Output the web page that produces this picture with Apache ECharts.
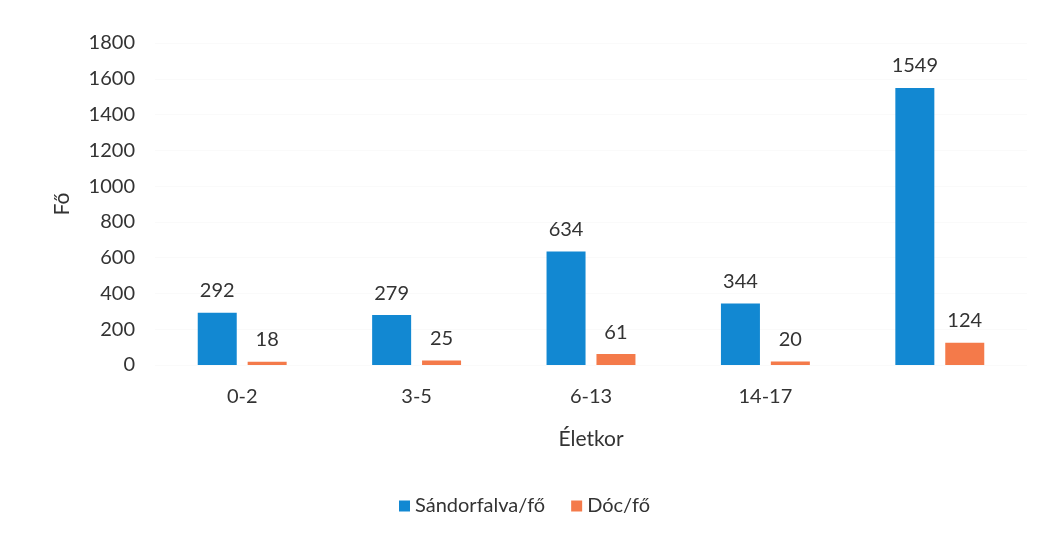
<!DOCTYPE html>
<html lang="hu">

<head>
    <meta charset="utf-8" />
    <title>Életkor szerinti megoszlás</title>
    <script src="https://cdn.jsdelivr.net/npm/echarts@6/dist/echarts.min.js"></script>
    <style>
        html, body { margin: 0; padding: 0; background: #fff; }
        #chart { width: 1049px; height: 535px; }
    </style>
</head>

<body>
    <div id="chart"></div>

    <script>
        // adatok
        var categories = ['0-2', '3-5', '6-13', '14-17', ''];
        var sandorfalva = [292, 279, 634, 344, 1549];
        var doc = [18, 25, 61, 20, 124];
        var seriesNames = ['Sándorfalva/fő', 'Dóc/fő'];

        var font = 'Lato, "Open Sans", sans-serif';
        var txt = '#333333';

        var myChart = echarts.init(document.getElementById('chart'));

        var labelOpt = {
            show: true,
            position: 'top',
            distance: 12,
            color: txt,
            fontSize: 20,
            fontFamily: font
        };

        var option = {
            animation: false,
            grid: { left: 155, right: 22, top: 43, bottom: 170, containLabel: false },
            legend: {
                data: seriesNames,
                bottom: 14,
                left: 'center',
                itemWidth: 11,
                itemHeight: 11,
                itemGap: 26,
                icon: 'rect',
                textStyle: { color: txt, fontSize: 20, fontFamily: font }
            },
            xAxis: {
                type: 'category',
                data: categories,
                name: 'Életkor',
                nameLocation: 'middle',
                nameGap: 64,
                nameTextStyle: { color: txt, fontSize: 21, fontFamily: font },
                axisLine: { show: false },
                axisTick: { show: false },
                axisLabel: { color: txt, fontSize: 20, fontFamily: font, margin: 22 }
            },
            yAxis: {
                type: 'value',
                min: 0,
                max: 1800,
                interval: 200,
                name: 'Fő',
                nameLocation: 'middle',
                nameGap: 82,
                nameTextStyle: { color: txt, fontSize: 21, fontFamily: font },
                axisLine: { show: false },
                axisTick: { show: false },
                splitLine: { show: true, lineStyle: { color: '#fafafa' } },
                axisLabel: {
                    color: txt, fontSize: 20, fontFamily: font, margin: 20,
                    formatter: function (v) { return String(v); }
                }
            },
            series: [
                {
                    name: seriesNames[0],
                    type: 'bar',
                    data: sandorfalva,
                    barWidth: 39,
                    barGap: '28%',
                    itemStyle: { color: '#1288D2' },
                    label: labelOpt
                },
                {
                    name: seriesNames[1],
                    type: 'bar',
                    data: doc,
                    barWidth: 39,
                    itemStyle: { color: '#F47A4A' },
                    label: labelOpt
                }
            ]
        };
        myChart.setOption(option);
    </script>
</body>

</html>
